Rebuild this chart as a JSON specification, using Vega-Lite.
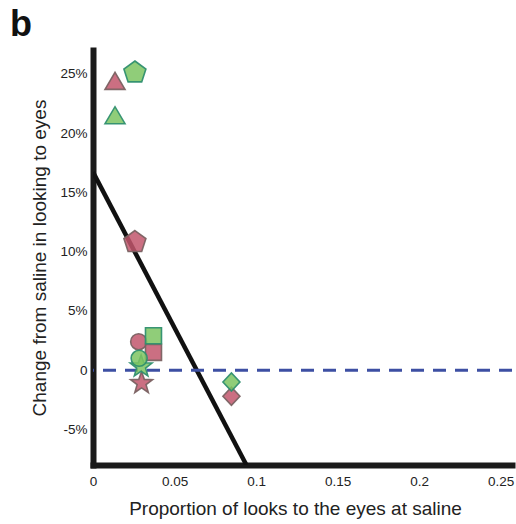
{
  "$schema": "https://vega.github.io/schema/vega-lite/v6.json",
  "autosize": "none",
  "width": 419,
  "height": 415,
  "padding": {"left": 93, "top": 50, "right": 4, "bottom": 59},
  "background": "white",
  "config": {
    "view": {"stroke": null},
    "font": "Liberation Sans",
    "axis": {"grid": false, "ticks": false, "labelFlush": false, "domainWidth": 6, "domainColor": "#1a1a1a", "domainCap": "square", "labelFont": "Liberation Sans", "labelFontSize": 13.5, "labelColor": "#222", "titleFont": "Liberation Sans", "titleFontSize": 19, "titleFontWeight": "normal", "titleColor": "#222"}
  },
  "title": {"text": "b", "anchor": "start", "frame": "group", "dx": -83, "dy": 9, "offset": 15, "fontSize": 36, "fontWeight": "bold", "font": "Liberation Sans", "color": "#111"},
  "datasets": {
    "pts": [
      {"x": 0.0135, "y": 0.244, "group": "red", "shape": "triangle"},
      {"x": 0.0257, "y": 0.108, "group": "red", "shape": "pentagon"},
      {"x": 0.0280, "y": 0.024, "group": "red", "shape": "circle"},
      {"x": 0.0371, "y": 0.015, "group": "red", "shape": "square"},
      {"x": 0.0298, "y": -0.011, "group": "red", "shape": "star"},
      {"x": 0.0849, "y": -0.022, "group": "red", "shape": "diamond"},
      {"x": 0.0257, "y": 0.251, "group": "green", "shape": "pentagon"},
      {"x": 0.0135, "y": 0.215, "group": "green", "shape": "triangle"},
      {"x": 0.0371, "y": 0.029, "group": "green", "shape": "square"},
      {"x": 0.0295, "y": 0.003, "group": "green", "shape": "star"},
      {"x": 0.0283, "y": 0.010, "group": "green", "shape": "circle"},
      {"x": 0.0849, "y": -0.010, "group": "green", "shape": "diamond"}
    ],
    "fit": [
      {"x": 0, "y": 0.167},
      {"x": 0.0941, "y": -0.08}
    ]
  },
  "layer": [
    {
      "data": {"name": "fit"},
      "mark": {"type": "line", "color": "#111", "strokeWidth": 4.5, "clip": true},
      "encoding": {
        "x": {"field": "x", "type": "quantitative", "scale": {"domain": [0, 0.257], "nice": false, "zero": false},
          "axis": {"values": [0, 0.05, 0.1, 0.15, 0.2, 0.25], "format": "~g", "labelPadding": 9, "titlePadding": 12, "titleX": 202, "title": "Proportion of looks to the eyes at saline"}},
        "y": {"field": "y", "type": "quantitative", "scale": {"domain": [-0.08, 0.27], "nice": false, "zero": false},
          "axis": {"values": [-0.05, 0, 0.05, 0.1, 0.15, 0.2, 0.25], "labelExpr": "datum.value == 0 ? '0' : (round(datum.value*100) + '%')", "labelPadding": 6, "titlePadding": 10, "title": "Change from saline in looking to eyes"}}
      }
    },
    {
      "data": {"values": [{"v": 0}]},
      "mark": {"type": "rule", "color": "#3d4fa3", "strokeWidth": 3, "strokeDash": [13, 9]},
      "encoding": {"y": {"field": "v", "type": "quantitative"}}
    },
    {
      "data": {"name": "pts"},
      "mark": {"type": "point", "filled": true, "size": 100, "strokeWidth": 1.6, "fillOpacity": 0.85, "strokeOpacity": 0.95},
      "encoding": {
        "x": {"field": "x", "type": "quantitative"},
        "y": {"field": "y", "type": "quantitative"},
        "fill": {"field": "group", "type": "nominal", "scale": {"domain": ["red", "green"], "range": ["#c2566c", "#7cc462"]}, "legend": null},
        "stroke": {"field": "group", "type": "nominal", "scale": {"domain": ["red", "green"], "range": ["#7a6262", "#2f8f6f"]}, "legend": null},
        "shape": {"field": "shape", "type": "nominal", "legend": null, "scale": {
          "domain": ["circle", "square", "triangle", "diamond", "pentagon", "star"],
          "range": [
            "M1.6,0A1.6,1.6,0,1,1,-1.6,0A1.6,1.6,0,1,1,1.6,0Z",
            "M-1.6,-1.6H1.6V1.6H-1.6Z",
            "M-2,1.7L2,1.7L0,-1.7Z",
            "M-1.7,0L0,-1.8L1.7,0L0,1.8Z",
            "M0,-2.31L2.2,-0.71L1.36,1.87L-1.36,1.87L-2.2,-0.71Z",
            "M0,-2.3L0.552,-0.76L2.188,-0.71L0.894,0.29L1.352,1.86L0,0.94L-1.352,1.86L-0.894,0.29L-2.188,-0.71L-0.552,-0.76Z"
          ]}}
      }
    }
  ]
}
